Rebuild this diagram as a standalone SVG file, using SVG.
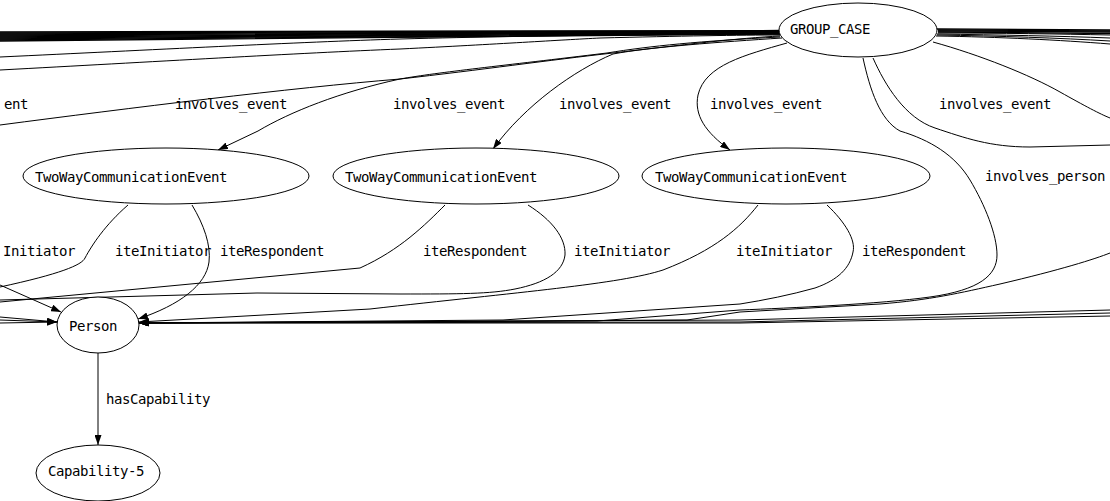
<svg xmlns="http://www.w3.org/2000/svg" width="1110" height="501" viewBox="0 0 1110 501">
  <style>
    .e { fill: none; stroke: #000; stroke-width: 1; }
    .b { fill: none; stroke: #000; stroke-width: 1.3; }
    .n ellipse { fill: #fff; stroke: #000; stroke-width: 1; }
    text { font-family: "DejaVu Sans Mono", "Liberation Mono", monospace; font-size: 14px; letter-spacing: -0.43px; fill: #000; }
  </style>
  <defs>
    <marker id="ah" viewBox="0 0 10 7" refX="10" refY="3.5" markerWidth="10" markerHeight="7" markerUnits="userSpaceOnUse" orient="auto">
      <path d="M0,0 L10,3.5 L0,7 Z" fill="#000"/>
    </marker>
  </defs>
  <rect width="1110" height="501" fill="#fff"/>

  <g id="connectors">
    <!-- dense bundle leaving GROUP_CASE to the left -->
    <path class="b" d="M0,32 C300,31 600,30 780,30.5"/>
    <path class="b" d="M0,33 C300,32 600,30.5 780,31"/>
    <path class="b" d="M0,34 C300,33 600,31 780,31.3"/>
    <path class="b" d="M0,35 C300,34 600,32 780,31.7"/>
    <path class="b" d="M0,36 C300,35 600,32.5 780,32"/>
    <path class="b" d="M0,37 C300,36 600,33 780,32.4"/>
    <path class="b" d="M0,38 C300,37 600,34 780,32.8"/>
    <path class="b" d="M0,39 C300,38 600,34.5 780,33.2"/>
    <path class="b" d="M0,40 C300,39 600,35 780,33.6"/>
    <path class="b" d="M0,41 C300,40 600,36 780,34"/>
    <path class="e" d="M0,57 C150,50 300,42 400,39 C550,35 700,34 780,34"/>
    <path class="e" d="M0,70 C150,62 300,53 400,49 C500,44 560,40 600,38 C680,36 740,35 780,35"/>
    <path class="e" d="M0,125 C130,108 290,88 400,79 C480,70 550,60 613,53 C680,45 740,38 780,36"/>

    <!-- involves_event to the three visible events -->
    <path class="e" marker-end="url(#ah)" d="M780,37 C700,41 650,46 607,53 C500,66 440,72 400,79 C340,92 290,112 258,131 L218,150"/>
    <path class="e" marker-end="url(#ah)" d="M782,38 C720,42 650,47 613,54 C575,70 525,105 493,149"/>
    <path class="e" marker-end="url(#ah)" d="M787,43 C745,55 705,65 698,95 C694,115 705,132 730,150"/>

    <!-- bundle leaving GROUP_CASE to the right -->
    <path class="b" d="M937,29 C1000,29 1060,30 1110,30"/>
    <path class="b" d="M938,30 C1000,30 1060,31 1110,31"/>
    <path class="b" d="M938,31 C1000,31 1060,32 1110,32"/>
    <path class="b" d="M938,32 C1000,32 1060,33 1110,33.5"/>
    <path class="e" d="M938,33 C1000,33 1060,34 1110,35"/>
    <path class="e" d="M937,34 C1000,35 1060,36 1110,38"/>
    <path class="e" d="M937,35 C1000,36 1060,38 1110,41"/>
    <path class="e" d="M936,36 C1000,37 1060,40 1110,44"/>
    <path class="e" d="M933,42 C980,55 1030,75 1060,92 C1085,106 1100,114 1110,118"/>

    <!-- edges leaving GROUP_CASE downwards -->
    <path class="e" d="M873,58 C885,85 905,118 935,128 C965,138 990,147 1030,147 L1110,145"/>
    <path class="e" marker-end="url(#ah)" d="M863,58 C870,90 880,120 900,131 C930,140 955,155 970,180 C985,205 997,235 997,255 C997,275 980,290 930,297 C880,304 790,308 740,310 L597,321 L139,323"/>
    <path class="e" marker-end="url(#ah)" d="M1110,253 C1095,259 1060,270 1000,284 C960,293 930,300 880,304 L740,312 L687,320 L139,323"/>
    <path class="e" marker-end="url(#ah)" d="M1110,310 L740,320 L139,323"/>
    <path class="e" marker-end="url(#ah)" d="M1110,313 L740,322 L139,323"/>
    <path class="e" marker-end="url(#ah)" d="M1110,316 L740,323 L139,323"/>

    <!-- TwoWayCommunicationEvent (left) -->
    <path class="e" d="M128,205 C105,225 92,245 85,258 C82,265 60,274 0,287"/>
    <path class="e" marker-end="url(#ah)" d="M192,205 C204,225 211,245 209,262 C206,285 180,305 138,319"/>

    <!-- TwoWayCommunicationEvent (middle) -->
    <path class="e" d="M445,205 C425,225 400,250 360,268 L0,302"/>
    <path class="e" d="M528,205 C552,220 566,238 565,255 C563,272 545,283 515,289 C490,294 460,294 400,294 L257,293 L0,300"/>

    <!-- TwoWayCommunicationEvent (right) -->
    <path class="e" marker-end="url(#ah)" d="M758,205 C740,228 715,250 663,270 C620,284 520,292 370,309 L139,322"/>
    <path class="e" marker-end="url(#ah)" d="M827,205 C845,222 856,240 853,252 C850,268 838,280 815,288 C790,295 765,300 740,304 L503,320 L139,323"/>

    <!-- edges entering Person from the left -->
    <path class="e" marker-end="url(#ah)" d="M0,285 L61,312"/>
    <path class="e" marker-end="url(#ah)" d="M0,317 L57,322"/>
    <path class="e" marker-end="url(#ah)" d="M0,320 L57,322"/>
    <path class="e" marker-end="url(#ah)" d="M0,323 L57,322"/>

    <!-- Person to Capability-5 -->
    <path class="e" marker-end="url(#ah)" d="M98,353 L98,445"/>
  </g>

  <g id="labels">
    <text x="4" y="109">ent</text>
    <text x="175" y="109">involves_event</text>
    <text x="393" y="109">involves_event</text>
    <text x="559" y="109">involves_event</text>
    <text x="710" y="109">involves_event</text>
    <text x="939" y="109">involves_event</text>
    <text x="985" y="181">involves_person</text>
    <text x="3" y="256">Initiator</text>
    <text x="115" y="256">iteInitiator</text>
    <text x="220" y="256">iteRespondent</text>
    <text x="423" y="256">iteRespondent</text>
    <text x="574" y="256">iteInitiator</text>
    <text x="736" y="256">iteInitiator</text>
    <text x="862" y="256">iteRespondent</text>
    <text x="106" y="404">hasCapability</text>
  </g>

  <g id="GROUP_CASE" class="n">
    <ellipse cx="858" cy="30" rx="79" ry="27"/>
    <text x="790" y="34">GROUP_CASE</text>
  </g>
  <g id="TwoWayCommunicationEvent-1" class="n">
    <ellipse cx="166" cy="176" rx="143" ry="28"/>
    <text x="35" y="182">TwoWayCommunicationEvent</text>
  </g>
  <g id="TwoWayCommunicationEvent-2" class="n">
    <ellipse cx="476" cy="176" rx="143" ry="28"/>
    <text x="345" y="182">TwoWayCommunicationEvent</text>
  </g>
  <g id="TwoWayCommunicationEvent-3" class="n">
    <ellipse cx="786" cy="176" rx="144" ry="28"/>
    <text x="655" y="182">TwoWayCommunicationEvent</text>
  </g>
  <g id="Person" class="n">
    <ellipse cx="98" cy="325" rx="41" ry="28"/>
    <text x="69" y="331">Person</text>
  </g>
  <g id="Capability-5" class="n">
    <ellipse cx="98" cy="473" rx="62" ry="28"/>
    <text x="48" y="476">Capability-5</text>
  </g>
</svg>
